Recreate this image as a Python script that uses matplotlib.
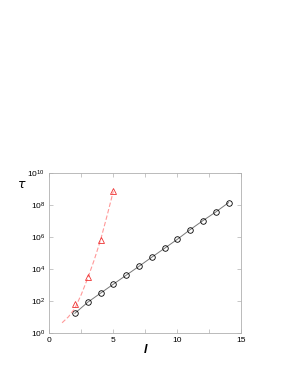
import matplotlib
matplotlib.use('Agg')
import matplotlib.pyplot as plt
import numpy as np

# circles: tau vs l (open black circles, solid line)
l_circ = np.array([2, 3, 4, 5, 6, 7, 8, 9, 10, 11, 12, 13, 14])
tau_circ = np.array([16.5, 81, 300, 1100, 4000, 14500, 54000, 1.96e5,
                     7.2e5, 2.9e6, 1.07e7, 3.7e7, 1.44e8])

# triangles (red), with a dashed curve
l_tri = np.array([2, 3, 4, 5])
tau_tri = np.array([60, 3000, 6.8e5, 7.4e8])
l_fit = np.array([1.0, 1.5, 2.0, 2.5, 3.0, 3.5, 4.0, 4.5, 5.0])
tau_fit = np.array([4.2, 10, 34, 250, 2600, 3.5e4, 6.3e5, 2.0e7, 7.4e8])

plt.rcParams['font.family'] = ['Liberation Sans', 'DejaVu Sans']

fig = plt.figure(figsize=(2.91, 3.76), dpi=100)
ax = fig.add_axes([49.3/291, 1-332.7/376, 192/291, 159.4/376])

framecol = '#b0b0b0'
ax.plot(l_circ, tau_circ, '-', color='#777777', lw=0.7)
ax.plot(l_circ, tau_circ, 'o', mfc='none', mec='black', ms=4, mew=0.6)
ax.plot(l_fit, tau_fit, '--', color='#ff9999', lw=0.8, dashes=(4, 2))
ax.plot(l_tri, tau_tri, '^', mfc='none', mec='#ee3333', ms=4, mew=0.6)

ax.set_yscale('log')
ax.set_xlim(0, 15)
ax.set_ylim(1, 1e10)
ax.set_xticks([0, 5, 10, 15])
ax.set_xticks([2.5, 7.5, 12.5], minor=True)
ax.set_yticks([1e0, 1e2, 1e4, 1e6, 1e8, 1e10])
ax.set_yticks([], minor=True)
ax.tick_params(axis='both', which='both', direction='in', top=True, right=True,
               color=framecol, labelsize=6, length=3, width=0.5, pad=3)
for s in ax.spines.values():
    s.set_color(framecol)
    s.set_linewidth(0.6)

fig.text(21.7/291, 1-185/376, r'$\tau$', fontsize=9, ha='center', va='center')
fig.text(145.7/291, 1-350/376, 'l', fontsize=9, style='italic', fontweight='bold',
         ha='center', va='center')

plt.savefig('out.png', dpi=100)
